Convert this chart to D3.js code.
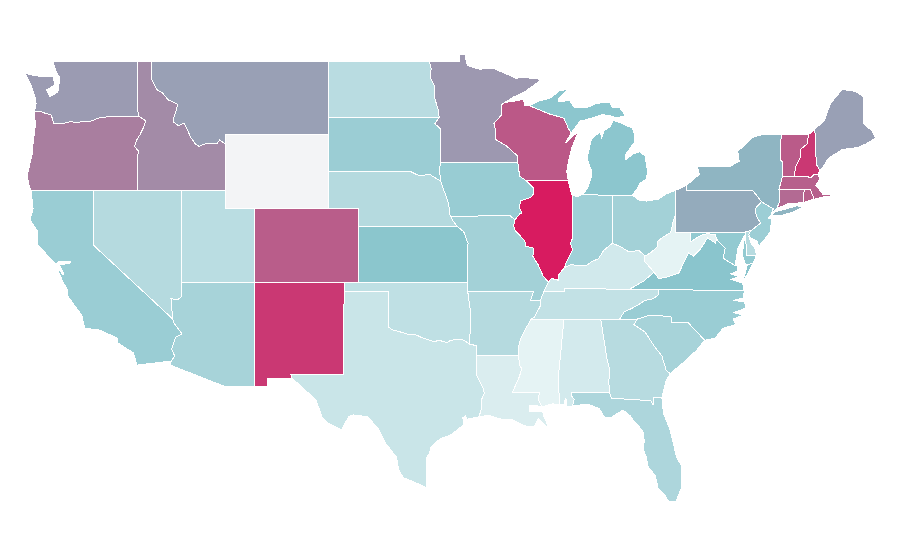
<!DOCTYPE html>
<html>
<head>
<meta charset="utf-8">
<script src="https://cdn.jsdelivr.net/npm/d3@7"></script>
<style>
  html, body { margin: 0; padding: 0; background: #fff; }
  svg { display: block; }
  .state { stroke: #fff; stroke-width: 1; shape-rendering: crispEdges; }
</style>
</head>
<body>
<div id="map"></div>
<script>
// Values, state by state (Wyoming has no value)
var stateNames = ["WA","OR","ID","MT","WY","ND","SD","NE","KS","OK","TX","NM","CO","UT","AZ","NV","CA",
  "MN","IA","MO","AR","LA","WI","IL","MI","IN","OH","KY","TN","MS","AL","GA","FL","SC","NC","VA","WV",
  "MD","DE","PA","NJ","NY","CT","RI","MA","VT","NH","ME"];
var stateValues = [62,70.7,67,60.6,null,26,40.7,28,48.5,23,18,91.4,80.5,25.5,35,28,41,
  63,42,37,28,10,82,100,48,38,37,14,21.5,4.4,13,27,32,35,41,49,4.4,
  44.6,27,57.4,40,54.4,76.6,80,79.6,81,91.4,60.6];

// Colour scale stops
var colorStops = [0, 50, 100];
var colorRange = ["#eef7f8", "#88c4cc", "#d81b60"];
var noDataColor = "#f3f4f6";

// Shared borders as [lon, lat], so that neighbours line up
var waId = [[-116.92,46.0],[-117.04,46.42],[-117.04,49]];
var orId = [[-117.03,42],[-117.03,43.83],[-116.93,44.1],[-117.22,44.35],[-117.05,44.75],[-116.85,45.0],[-116.55,45.5],[-116.46,45.75],[-116.92,46.0]];
var waOr = [[-116.92,46.0],[-118.98,46.0],[-119.3,45.93],[-119.6,45.92],[-120.2,45.73],[-120.65,45.73],[-121.2,45.65],[-121.55,45.72],[-122.2,45.58],[-122.7,45.63],[-122.8,45.9],[-122.9,46.1],[-123.25,46.15],[-123.55,46.26],[-124.0,46.26]];
var waCoast = [[-124.0,46.26],[-123.9,46.7],[-123.95,47.0],[-124.25,47.7],[-124.65,48.35],[-124.0,48.2],[-123.1,48.15],[-122.75,48.15],[-122.62,47.7],[-123.18,47.43],[-122.95,47.06],[-122.42,47.33],[-122.28,48.08],[-122.5,48.35],[-122.76,49]];
var orCoast = [[-124.0,46.26],[-123.95,45.5],[-124.1,44.55],[-124.15,44.0],[-124.35,43.3],[-124.5,42.8],[-124.4,42.3],[-124.25,42.0]];
var idMt = [[-116.05,49],[-116.05,48.0],[-115.72,47.45],[-115.3,47.25],[-114.95,46.9],[-114.32,46.65],[-114.35,46.4],[-114.55,45.95],[-114.6,45.7],[-114.25,45.5],[-113.85,45.62],[-113.6,45.2],[-113.4,44.85],[-113.1,44.5],[-112.85,44.37],[-112.3,44.55],[-111.6,44.55],[-111.45,44.72],[-111.05,44.48]];
var ndMn = [[-97.23,49],[-97.1,48.6],[-97.15,48.1],[-96.85,47.6],[-96.85,46.95],[-96.6,46.3],[-96.56,45.94]];
var sdMn = [[-96.56,45.94],[-96.85,45.6],[-96.45,45.3],[-96.45,43.5]];
var sdIa = [[-96.45,43.5],[-96.55,43.1],[-96.45,42.49]];
var sdNe = [[-96.45,42.49],[-96.7,42.6],[-97.2,42.85],[-97.9,42.77],[-98.5,43.0],[-104.05,43.0]];
var neIa = [[-96.45,42.49],[-96.25,42.0],[-96.1,41.7],[-95.9,41.2],[-95.85,40.7],[-95.77,40.58]];
var neMo = [[-95.77,40.58],[-95.6,40.3],[-95.31,40]];
var ksMo = [[-95.31,40],[-94.9,39.75],[-94.6,39.1],[-94.62,37]];
var okAr = [[-94.62,36.5],[-94.43,35.4],[-94.48,33.64]];
var redRiver = [[-94.48,33.64],[-95.0,33.9],[-95.3,33.88],[-95.8,33.85],[-96.0,33.72],[-96.6,33.85],[-96.9,33.75],[-97.2,33.85],[-97.7,33.98],[-98.1,34.13],[-98.6,34.15],[-99.2,34.3],[-99.7,34.4],[-100,34.56]];
var arTx = [[-94.48,33.64],[-94.04,33.55],[-94.04,33.02]];
var txLa = [[-94.04,33.02],[-94.04,31.99],[-93.55,31.2],[-93.5,30.95],[-93.7,30.6],[-93.7,30.1],[-93.85,29.7]];
var txCoast = [[-93.85,29.7],[-94.7,29.55],[-94.75,29.75],[-94.95,29.65],[-94.9,29.25],[-95.8,28.7],[-96.5,28.5],[-97.15,28.0],[-97.2,27.7],[-97.4,27.5],[-97.4,27.3],[-97.45,26.8],[-97.4,25.85]];
var rioGrande = [[-97.4,25.85],[-98.1,26.1],[-99.0,26.4],[-99.3,26.8],[-99.45,27.5],[-100.2,28.27],[-100.7,29.05],[-101.4,29.7],[-102.4,29.8],[-102.7,29.7],[-103.17,28.98],[-104.0,29.3],[-104.5,29.65],[-104.9,30.6],[-106.0,31.4],[-106.53,31.78],[-106.62,32]];
var nmTx = [[-106.62,32],[-103.06,32],[-103.04,34],[-103,36.5]];
var laMs = [[-91.17,33.0],[-91.1,32.5],[-90.95,32.3],[-91.15,31.8],[-91.6,31.0],[-89.75,31.0],[-89.85,30.65],[-89.55,30.2]];
var laCoast = [[-89.55,30.2],[-90.05,30.33],[-90.4,30.3],[-90.4,30.0],[-89.85,29.98],[-89.55,30.0],[-89.45,29.7],[-89.35,29.55],[-89.1,29.0],[-89.45,29.3],[-89.85,29.6],[-90.1,29.15],[-90.55,29.15],[-91.0,29.3],[-91.6,29.55],[-92.3,29.55],[-93.2,29.77],[-93.85,29.7]];
var arTn = [[-89.7,36],[-89.7,35.7],[-90.1,35.1],[-90.3,35.0]];
var arMs = [[-90.3,35.0],[-90.6,34.6],[-91.05,33.9],[-91.2,33.4],[-91.17,33.0]];
var moIl = [[-91.42,40.38],[-91.5,40.05],[-91.4,39.8],[-90.75,39.25],[-90.7,38.95],[-90.15,38.85],[-90.2,38.4],[-89.85,37.95],[-89.5,37.33],[-89.15,37.0]];
var moTn = [[-89.15,37],[-89.45,36.5],[-89.7,36]];
var iaIl = [[-90.64,42.5],[-90.15,42.1],[-90.15,41.8],[-90.35,41.6],[-91.05,41.4],[-91.1,41.0],[-90.95,40.75],[-91.1,40.7],[-91.42,40.38]];
var wiIa = [[-91.22,43.5],[-91.1,42.75],[-90.64,42.5]];
var wiMn = [[-92.1,46.75],[-92.3,46.65],[-92.3,46.1],[-92.85,45.6],[-92.75,45.3],[-92.75,44.75],[-92,44.4],[-91.25,43.85],[-91.22,43.5]];
var wiTop = [[-92.1,46.75],[-91.2,46.85],[-90.85,46.95],[-90.75,46.6],[-90.42,46.57]];
var wiMi = [[-90.42,46.57],[-89.1,46.13],[-88.1,45.9],[-87.8,45.35],[-87.6,45.1]];
var wiDoor = [[-87.6,45.1],[-88.0,44.55],[-87.5,44.9],[-87.05,45.25],[-87.3,44.8],[-87.55,44.3],[-87.75,43.7],[-87.9,43.0],[-87.8,42.5]];
var mnNorth = [[-97.23,49],[-95.15,49],[-95.15,49.38],[-94.8,49.33],[-94.65,48.75],[-93.8,48.55],[-93.4,48.6],[-92.95,48.62],[-92.0,48.3],[-91.4,48.07],[-90.75,48.1],[-89.6,48.0],[-90.8,47.3],[-91.5,47.05],[-92.1,46.75]];
var ilIn = [[-87.53,41.72],[-87.53,39.35],[-87.65,39.1],[-87.5,38.75],[-87.98,38.0],[-88.05,37.8]];
var ilKy = [[-88.05,37.8],[-88.45,37.4],[-88.45,37.1],[-88.95,37.2],[-89.15,37]];
var inKy = [[-88.05,37.8],[-87.6,37.95],[-87.05,37.9],[-86.5,37.93],[-86.25,38.1],[-85.75,38.27],[-85.4,38.72],[-84.82,39.1]];
var inOh = [[-84.8,41.7],[-84.82,39.1]];
var ohKy = [[-84.82,39.1],[-84.3,38.95],[-83.7,38.65],[-83.0,38.72],[-82.6,38.42]];
var ohWv = [[-80.52,40.64],[-80.65,40.4],[-80.85,39.7],[-81.45,39.4],[-81.75,39.2],[-81.75,38.93],[-82.2,38.6],[-82.6,38.42]];
var kyWv = [[-82.6,38.42],[-82.6,38.1],[-81.97,37.54]];
var kyVa = [[-81.97,37.54],[-82.7,37.05],[-83.68,36.6]];
var tnNc = [[-81.68,36.59],[-81.7,36.3],[-82.05,36.1],[-82.6,36.0],[-83.1,35.75],[-83.5,35.57],[-84.0,35.4],[-84.32,34.99]];
var ncCoast = [[-75.87,36.55],[-75.9,36.15],[-76.65,36.0],[-75.85,35.95],[-75.75,35.6],[-76.55,35.35],[-75.95,35.2],[-76.6,35.0],[-76.45,34.7],[-77.3,34.5],[-77.85,33.95],[-78.55,33.85]];
var ncSc = [[-78.55,33.85],[-79.67,34.8],[-80.8,34.82],[-80.8,35.1],[-81.05,35.15],[-82.3,35.2],[-83.1,35.0]];
var scCoast = [[-78.55,33.85],[-79.1,33.3],[-79.9,32.7],[-80.5,32.3],[-80.88,32.03]];
var scGa = [[-80.88,32.03],[-81.15,32.2],[-81.45,33.0],[-81.95,33.5],[-82.6,34.3],[-83.35,34.7],[-83.1,35.0]];
var gaAl = [[-85.6,35],[-85.18,32.87],[-85.0,32.3],[-85.05,31.55],[-85,31]];
var alFl = [[-85,31],[-87.6,31],[-87.6,30.85],[-87.4,30.65],[-87.52,30.28]];
var gaFl = [[-85,31],[-84.86,30.7],[-82.2,30.57],[-82.05,30.36],[-82.0,30.75],[-81.45,30.72]];
var gaCoast = [[-80.88,32.03],[-81.15,31.7],[-81.3,31.2],[-81.45,30.72]];
var flCoast = [[-87.52,30.28],[-86.5,30.38],[-85.7,30.15],[-85.35,29.68],[-84.9,29.65],[-84.1,30.06],[-83.6,29.75],[-83.3,29.4],[-82.75,28.95],[-82.65,28.4],[-82.7,27.9],[-82.5,27.5],[-82.4,27.0],[-81.9,26.5],[-81.7,25.8],[-81.3,25.5],[-81.0,25.1],[-80.5,25.1],[-80.1,25.9],[-80.1,27.0],[-80.45,27.5],[-80.9,29.0],[-81.35,29.9],[-81.45,30.72]];
var alCoast = [[-87.52,30.28],[-87.9,30.25],[-87.9,30.65],[-88.0,30.68],[-88.1,30.35],[-88.4,30.35]];
var msAl = [[-88.2,35],[-88.1,34.9],[-88.47,31.9],[-88.4,30.35]];
var msCoast = [[-88.4,30.35],[-88.85,30.4],[-89.3,30.3],[-89.55,30.2]];
var vaCoast = [[-75.87,36.55],[-75.98,36.95],[-76.75,37.15],[-76.25,37.3],[-76.8,37.45],[-76.3,37.6],[-76.3,37.95]];
var potomac = [[-76.3,37.95],[-76.5,37.9],[-77.3,38.3],[-77.15,38.85],[-77.5,39.1],[-77.72,39.32]];
var wvMd = [[-79.48,39.2],[-79.0,39.45],[-78.75,39.55],[-78.4,39.62],[-77.85,39.6],[-77.72,39.32]];
var wvVa = [[-77.72,39.32],[-77.83,39.13],[-78.35,39.4],[-78.87,38.76],[-79.3,38.42],[-79.65,38.58],[-80.3,37.5],[-81.2,37.25],[-81.68,37.2],[-81.97,37.54]];
var paNj = [[-74.7,41.36],[-75.13,40.98],[-75.05,40.6],[-74.75,40.2],[-75.4,39.8]];
var nyVt = [[-73.35,45],[-73.4,44.4],[-73.43,43.6],[-73.25,43.55],[-73.27,42.75]];
var nyCt = [[-73.5,42.05],[-73.5,41.3],[-73.66,41]];
var vtNh = [[-71.5,45.01],[-71.6,44.5],[-72.05,44.2],[-72.05,43.8],[-72.4,43.2],[-72.46,42.73]];
var nhMe = [[-71.08,45.3],[-71.03,44.65],[-70.98,43.4],[-70.73,43.07]];
var caNv = [[-120,42],[-120,39],[-114.63,35]];
var nvAz = [[-114.63,35],[-114.75,36.1],[-114.3,36.05],[-114.04,36.2],[-114.04,37]];
var caAz = [[-114.63,35],[-114.57,34.8],[-114.0,34.2],[-114.45,34.0],[-114.7,33.35],[-114.5,33.0],[-114.72,32.72]];
var caCoast = [[-117.05,32.5],[-117.3,33.16],[-118.35,33.7],[-118.4,33.97],[-119.6,34.4],[-120.6,34.5],[-120.8,35.2],[-121.8,36.3],[-121.74,36.56],[-122.07,37.0],[-122.48,37.78],[-122.08,37.42],[-122.02,37.45],[-122.33,37.95],[-121.6,38.02],[-121.55,38.1],[-122.4,38.12],[-122.55,37.95],[-122.96,38.31],[-123.77,39.02],[-123.77,39.72],[-124.31,40.37],[-124.1,41.0],[-124.25,42]];

// Walk a border the other way round
function rev(arc) { return arc.slice().reverse(); }
// Glue borders and loose points into one ring
function ring() { return [].concat.apply([], arguments); }

var stateRings = {
  WA: [ring(waOr, waCoast, rev(waId))],
  OR: [ring(orCoast, [[-120,42]], orId, waOr)],
  ID: [ring(orId, waId, idMt, [[-111.05,42],[-114.04,42]])],
  MT: [ring(idMt, [[-111.05,45],[-104.05,45],[-104.05,45.94],[-104.05,49]])],
  WY: [[[-111.05,45],[-104.05,45],[-104.05,41],[-111.05,41]]],
  ND: [ring([[-104.05,49]], ndMn, [[-104.05,45.94]])],
  SD: [ring([[-104.05,45.94]], sdMn, sdIa, sdNe, [[-104.05,45]])],
  NE: [ring(rev(sdNe), neIa, neMo, [[-102.05,40],[-102.05,41],[-104.05,41]])],
  KS: [ring([[-102.05,40]], ksMo, [[-102.05,37]])],
  OK: [ring([[-103,37],[-94.62,37]], okAr, redRiver, [[-100,36.5],[-103,36.5]])],
  TX: [ring([[-103,36.5],[-100,36.5]], rev(redRiver), arTx, txLa, txCoast, rioGrande, nmTx)],
  NM: [ring([[-109.05,37],[-103,37]], rev(nmTx), [[-106.53,31.78],[-108.21,31.78],[-108.21,31.33],[-109.05,31.33]])],
  CO: [[[-109.05,41],[-102.05,41],[-102.05,37],[-109.05,37]]],
  UT: [[[-114.04,42],[-111.05,42],[-111.05,41],[-109.05,41],[-109.05,37],[-114.04,37]]],
  AZ: [ring([[-114.04,37],[-109.05,37],[-109.05,31.33],[-111.07,31.33],[-114.8,32.5]], rev(caAz), nvAz)],
  NV: [ring([[-120,42],[-114.04,42],[-114.04,37]], rev(nvAz), rev(caNv))],
  CA: [ring([[-124.25,42]], caNv, caAz, caCoast), [[-120.1,33.98],[-119.6,33.98],[-119.6,34.03],[-120.1,34.03]]],
  MN: [ring(mnNorth, wiMn, [[-96.45,43.5]], rev(sdMn), rev(ndMn))],
  IA: [ring([[-96.45,43.5]], wiIa, iaIl, [[-91.73,40.6],[-95.77,40.58]], rev(neIa), rev(sdIa))],
  MO: [ring([[-95.77,40.58],[-91.73,40.6]], moIl, moTn, [[-90.37,36],[-90.15,36.5],[-94.62,36.5],[-94.62,37]], rev(ksMo), rev(neMo))],
  AR: [ring([[-94.62,36.5],[-90.15,36.5],[-90.37,36]], arTn, arMs, [[-94.04,33.02]], rev(arTx), rev(okAr))],
  LA: [ring([[-94.04,33.02]], laMs, laCoast, rev(txLa))],
  WI: [ring(wiTop, wiMi, wiDoor, [[-90.64,42.5]], rev(wiIa), rev(wiMn))],
  IL: [ring([[-90.64,42.5],[-87.8,42.5],[-87.6,41.85]], ilIn, ilKy, rev(moIl), rev(iaIl))],
  MI: [
    [[-86.82,41.76],[-86.5,42.1],[-86.2,42.8],[-86.25,43.1],[-86.5,43.65],[-86.45,44.0],[-86.25,44.7],[-86.0,44.95],[-85.6,45.15],[-85.55,44.8],[-85.35,45.25],[-85.0,45.4],[-84.75,45.78],[-84.2,45.63],[-83.45,45.35],[-83.3,45.0],[-83.3,44.6],[-83.9,43.95],[-83.9,43.65],[-83.4,43.95],[-82.95,44.07],[-82.6,43.85],[-82.42,43.0],[-82.5,42.6],[-82.95,42.35],[-83.15,42.05],[-83.45,41.72],[-84.8,41.7]],
    ring(wiMi, [[-87.0,45.75],[-86.75,45.75],[-86.5,45.85],[-86.0,45.95],[-85.5,46.08],[-85.0,46.05],[-84.7,45.95],[-83.9,45.97],[-84.1,46.25],[-84.35,46.5],[-84.8,46.45],[-85.0,46.77],[-85.9,46.7],[-86.6,46.45],[-87.4,46.5],[-87.7,46.85],[-88.45,46.8],[-88.45,46.95],[-87.8,47.47],[-88.4,47.38],[-89.0,47.0],[-89.8,46.82]]),
    [[-89.2,47.85],[-88.5,48.17],[-88.9,47.95]]
  ],
  IN: [ring([[-87.53,41.72],[-87.2,41.63],[-86.82,41.76]], inOh, rev(inKy), rev(ilIn))],
  OH: [ring([[-84.8,41.7],[-83.45,41.72],[-83.0,41.45],[-82.5,41.4],[-81.7,41.5],[-81.2,41.77],[-80.52,41.98]], ohWv, rev(ohKy), rev(inOh))],
  KY: [ring(rev(ilKy), inKy, ohKy, kyWv, kyVa, [[-88.07,36.68],[-88.07,36.5],[-89.45,36.5]])],
  TN: [ring([[-89.45,36.5],[-88.07,36.5],[-88.07,36.68],[-83.68,36.6]], tnNc, [[-85.6,35],[-88.2,35]], rev(arTn))],
  MS: [ring([[-90.3,35]], msAl, msCoast, rev(laMs), rev(arMs))],
  AL: [ring([[-88.2,35]], gaAl, alFl, alCoast, rev(msAl))],
  GA: [ring(gaAl.slice(0, 1), [[-84.32,34.99]], rev(scGa), gaCoast, rev(gaFl), rev(gaAl))],
  FL: [ring(flCoast, rev(gaFl), alFl)],
  SC: [ring(ncSc, rev(scGa), rev(scCoast))],
  NC: [ring(tnNc.slice(0, 1), ncCoast, ncSc, [[-84.32,34.99]], rev(tnNc))],
  VA: [
    ring([[-83.68,36.6],[-81.68,36.59]], vaCoast, potomac, wvVa, kyVa),
    [[-75.95,37.05],[-75.65,37.95],[-75.25,38.03],[-75.6,37.5]]
  ],
  WV: [ring([[-80.52,40.64],[-80.52,39.72],[-79.48,39.72]], wvMd, wvVa, rev(kyWv), rev(ohWv))],
  MD: [ring([[-79.48,39.72],[-75.79,39.72],[-75.7,38.46],[-75.05,38.45],[-75.25,38.03],[-75.65,37.95],[-75.8,38.0],[-75.95,38.35],[-75.95,38.8],[-75.85,39.45],[-75.85,39.55],[-76.3,38.85],[-76.4,38.3],[-76.5,37.9]], potomac.slice(2), rev(wvMd))],
  DE: [[[-75.79,39.72],[-75.4,39.8],[-75.55,39.5],[-75.4,39.1],[-75.1,38.8],[-75.05,38.45],[-75.7,38.46]]],
  PA: [ring([[-80.52,41.98],[-79.76,42.27],[-79.76,42],[-75.35,42],[-75.05,41.75]], paNj, [[-75.79,39.72],[-80.52,39.72],[-80.52,40.64]])],
  NJ: [ring(paNj, [[-75.55,39.6],[-75.5,39.45],[-74.95,39.2],[-74.9,38.93],[-74.4,39.4],[-74.1,39.75],[-74.0,40.45],[-74.25,40.48],[-74.03,40.65],[-73.9,40.98]])],
  NY: [
    ring([[-79.76,42.27],[-78.9,42.85],[-79.05,43.27],[-77.5,43.27],[-76.8,43.3],[-76.2,43.55],[-76.3,44.1],[-75.3,44.85],[-74.7,45]], nyVt, nyCt, [[-73.95,40.8],[-73.9,40.98],[-74.7,41.36],[-75.05,41.75],[-75.35,42],[-79.76,42]]),
    [[-74.03,40.6],[-73.75,40.82],[-73.1,40.95],[-72.3,41.15],[-71.9,41.07],[-72.5,40.82],[-73.3,40.63]]
  ],
  CT: [ring([[-73.5,42.05],[-71.8,42.02],[-71.85,41.32],[-72.9,41.25],[-73.66,41]], rev(nyCt))],
  RI: [[[-71.8,42.02],[-71.38,42.02],[-71.12,41.5],[-71.4,41.45],[-71.85,41.32]]],
  MA: [[[-73.27,42.75],[-72.46,42.73],[-71.3,42.7],[-71.15,42.82],[-70.85,42.87],[-70.75,42.6],[-71.0,42.25],[-70.7,41.95],[-70.55,41.78],[-70.0,41.78],[-70.0,41.68],[-70.65,41.6],[-71.12,41.5],[-71.38,42.02],[-71.8,42.02],[-73.5,42.05]]],
  VT: [ring([[-73.35,45]], vtNh, [[-73.27,42.75]], rev(nyVt))],
  NH: [ring([[-71.5,45.01]], nhMe, [[-70.85,42.87],[-71.15,42.82],[-71.3,42.7]], rev(vtNh))],
  ME: [ring([[-71.08,45.3],[-70.4,45.8],[-70.25,46.2],[-70.0,46.7],[-69.23,47.46],[-69.0,47.43],[-68.35,47.36],[-67.8,47.07],[-67.8,45.8],[-67.75,45.6],[-67.2,45.2],[-66.97,44.82],[-67.6,44.5],[-68.2,44.3],[-69.2,44.2],[-70.0,43.8],[-70.25,43.6],[-70.55,43.2]], rev(nhMe))]
};

var width = 900, height = 560;

// The map is a plain stretched lon/lat grid: straight parallels, straight meridians
var xScale = d3.scaleLinear().domain([-111.05, -104.05]).range([225.5, 328.7]);
var yScale = d3.scaleLinear().domain([49, 25]).range([61, 503.3]);
var color = d3.scaleLinear().domain(colorStops).range(colorRange);

var grid = d3.geoTransform({
  point: function(lon, lat) { this.stream.point(xScale(lon), yScale(lat)); }
});
var path = d3.geoPath().projection(grid);

var svg = d3.select("#map").append("svg")
  .attr("width", width)
  .attr("height", height);

svg.selectAll("path")
  .data(stateNames)
  .enter()
  .append("path")
  .attr("class", "state")
  .attr("d", function(name) {
    var polygons = stateRings[name].map(function(r) { return [r.concat([r[0]])]; });
    return path({ type: "MultiPolygon", coordinates: polygons });
  })
  .attr("fill", function(name, i) {
    return stateValues[i] === null ? noDataColor : color(stateValues[i]);
  });
</script>
</body>
</html>
